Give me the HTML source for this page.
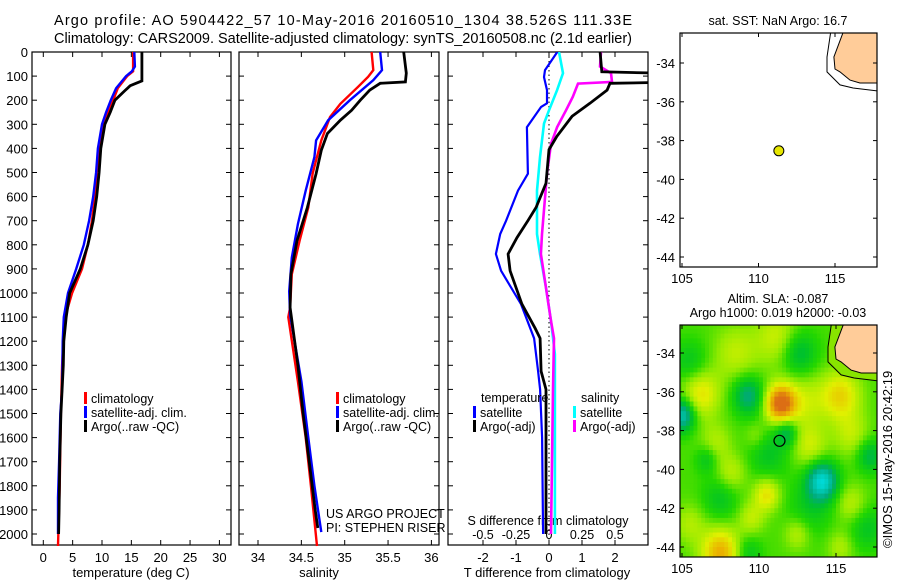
<!DOCTYPE html>
<html><head><meta charset="utf-8"><style>
html,body{margin:0;padding:0;background:#fff;}
svg{display:block;font-family:"Liberation Sans",sans-serif;}
</style></head><body>
<svg id="fig" width="900" height="580" viewBox="0 0 900 580" xmlns="http://www.w3.org/2000/svg">
<text x="54" y="25" font-size="14.5" textLength="578">Argo profile: AO 5904422_57 10-May-2016 20160510_1304 38.526S 111.33E</text>
<text x="54" y="43" font-size="14.5" textLength="578">Climatology: CARS2009. Satellite-adjusted climatology: synTS_20160508.nc (2.1d earlier)</text>
<g id="g1"></g>
<g id="g2"></g>
<g id="g3"></g>
<g id="g4"></g>
<g id="g5"></g>
<text x="0" y="0" font-size="13" transform="translate(892,548) rotate(-90)">©IMOS 15-May-2016 20:42:19</text>
</svg>
<script>
// ---------- data ----------
const depthTicks = [0,100,200,300,400,500,600,700,800,900,1000,1100,1200,1300,1400,1500,1600,1700,1800,1900,2000];
const tempTicks = [0,5,10,15,20,25,30];
const salTicks = [34,34.5,35,35.5,36];
const salTickLabels = ["34","34.5","35","35.5","36"];
const dTTicks = [-2,-1,0,1,2];
const dSTicks = [-0.5,-0.25,0,0.25,0.5];
const dSTickLabels = ["-0.5","-0.25","0","0.25","0.5"];
const lonTicks = [105,110,115];
const latTicks = [-34,-36,-38,-40,-42,-44];

const argoTDepth = [0,120,130,140,160,200,250,300,400,500,600,700,800,900,1000,1100,1200,1300,1400,1500,1700,1900,2000];
const argoT      = [16.8,16.8,15.8,14.8,13.9,12.2,11.4,10.5,9.8,9.5,9.1,8.5,7.6,6.3,4.5,3.9,3.5,3.4,3.2,3.0,2.8,2.7,2.6];
const climTDepth = [0,80,100,150,200,250,300,400,500,600,700,800,900,1000,1100,1200,1300,1500,1800,2050];
const climT      = [15.3,15.3,14.3,12.7,11.9,11.0,10.3,9.5,9.1,8.8,8.3,7.6,6.6,4.9,3.7,3.4,3.2,3.0,2.8,2.5];
const satTDepth  = [0,60,80,100,150,200,250,300,400,500,600,700,800,900,1000,1100,1200,1400,1500,1700,1850,2000];
const satT       = [15.5,15.6,15.1,14.1,12.4,11.5,10.7,10.0,9.3,9.0,8.5,7.8,6.9,5.6,4.2,3.5,3.3,3.2,2.9,2.7,2.5,2.5];

const argoSDepth = [0,88,124,130,158,200,242,283,338,408,505,645,783,922,1060,1300,1500,1700,1900,1975];
const argoS      = [35.68,35.71,35.70,35.41,35.29,35.18,35.08,34.95,34.80,34.73,34.67,34.57,34.45,34.38,34.37,34.46,34.52,34.59,34.66,34.69];
const climSDepth = [0,75,103,146,215,270,367,505,645,783,922,1060,1100,1367,1600,1800,2050];
const climS      = [35.31,35.33,35.27,35.15,34.95,34.83,34.73,34.63,34.58,34.48,34.39,34.37,34.35,34.46,34.55,34.61,34.68];
const satSDepth  = [0,75,117,200,283,367,436,575,714,853,992,1090,1367,1600,1800,1992];
const satS       = [35.41,35.43,35.33,35.06,34.81,34.67,34.65,34.55,34.46,34.39,34.36,34.37,34.50,34.58,34.65,34.73];

const dTsatDepth = [0,75,104,158,213,228,312,505,575,700,755,838,908,1046,1188,1325,1400,1600,2000];
const dTsat      = [0.25,-0.12,-0.15,-0.06,-0.06,-0.24,-0.67,-0.64,-0.94,-1.30,-1.48,-1.61,-1.45,-0.85,-0.45,-0.33,-0.27,-0.21,-0.18];
const dTargoDepth = [0,82,90,125,130,158,213,267,350,405,545,645,700,770,838,908,1046,1146,1188,1325,1400,2000];
const dTargo      = [1.55,1.6,4.0,4.0,1.85,1.76,1.24,0.70,0.24,0.0,-0.09,-0.39,-0.64,-0.97,-1.24,-1.18,-0.82,-0.42,-0.27,-0.24,-0.09,-0.09];
const dSsatDepth = [0,88,158,242,297,436,575,755,838,978,1116,1254,1400,2000];
const dSsat      = [0.076,0.106,0.061,0.0,-0.038,-0.068,-0.091,-0.091,-0.068,-0.023,0.015,0.045,0.045,0.045];
const dSargoDepth = [0,60,88,124,131,186,242,312,381,505,755,838,1116,1188,1400,2000];
const dSargo      = [0.394,0.386,0.47,0.477,0.22,0.18,0.129,0.061,0.015,-0.015,-0.053,-0.061,0.015,0.038,0.03,0.015];

const floatLon = 111.33, floatLat = -38.526;
const landLon = [115.59,114.93,115.0,115.33,115.98,116.63,117.75,118.2,118.2];
const landLat = [-32.3,-33.69,-34.31,-34.46,-34.88,-35.03,-35.03,-35.03,-32.3];
const shelfLon = [114.74,114.48,114.48,115.33,116.18,117.75,118.2,118.2];
const shelfLat = [-32.3,-33.69,-34.46,-35.13,-35.29,-35.44,-35.44,-32.3];

const blobLon = [111.4,107.5,106.2,115.3,110.5,108.5,111.2,113.0,113.3,116.0,107.2,108.2,116.0,112.5,105.5,109.8,109.5,115.3,114.1,105.0,109.3,111.8,117.2,112.6,105.5,110.6,107.5,109.3,106.6,113.3,117.0];
const blobLat = [-36.6,-44.3,-36.1,-36.2,-41.3,-34.0,-33.2,-36.5,-38.8,-38.2,-38.6,-40.2,-41.8,-43.3,-42.8,-38.3,-42.5,-44.0,-40.6,-37.2,-36.2,-38.1,-39.3,-34.0,-34.5,-39.2,-41.5,-44.3,-39.5,-42.0,-43.0];
const blobVal = [1.1,0.75,0.5,0.55,0.5,0.3,0.35,0.3,0.35,0.3,0.25,0.3,0.3,0.3,0.25,0.2,0.3,0.25,-1.0,-0.9,-0.6,-0.5,-0.45,-0.45,-0.3,-0.3,-0.3,-0.3,-0.3,-0.25,-0.3];
const blobRad = [0.7,0.9,0.9,0.9,0.6,1.0,1.0,1.0,0.8,0.8,0.7,0.7,0.7,0.6,0.7,0.5,0.6,0.6,0.7,0.6,0.7,0.5,0.6,0.8,0.8,0.9,0.8,0.6,0.5,1.0,0.8];

// ---------- helpers ----------
const NS = "http://www.w3.org/2000/svg";
function mk(parent, tag, attrs, txt){
  const e = document.createElementNS(NS, tag);
  for (const k in attrs) e.setAttribute(k, attrs[k]);
  if (txt !== undefined) e.textContent = txt;
  parent.appendChild(e); return e;
}
const Y0 = 52, YB = 545;
const yD = d => Y0 + d*0.241;
const xT = t => 43.3 + t*5.87;
const xS = s => 258 + (s-34)*86.7;
const xdT = t => 549 + t*33;
const xdS = s => 549 + s*132;

function frame(g, x0, x1, name){
  const r = mk(g,'rect',{x:x0,y:Y0,width:x1-x0,height:YB-Y0,fill:'none',stroke:'#000','stroke-width':1.2});
  
  
  depthTicks.forEach(d=>{
    const y = yD(d);
    mk(g,'line',{x1:x0,x2:x0+5,y1:y,y2:y,stroke:'#000'});
    mk(g,'line',{x1:x1-5,x2:x1,y1:y,y2:y,stroke:'#000'});
  });
}
function series(g, xs, ds, fx, color, name, w, clipId){
  const pts = xs.map((v,i)=> fx(v).toFixed(1)+','+yD(ds[i]).toFixed(1)).join(' ');
  const p = mk(g,'polyline',{points:pts,fill:'none',stroke:color,'stroke-width':w||2.4,'stroke-linejoin':'miter'});
  if (clipId) p.setAttribute('clip-path','url(#'+clipId+')');
  
  
}
function legend(g, x, y, color, label, name){
  mk(g,'rect',{x:x,y:y-11,width:3,height:12,fill:color});
  const t = mk(g,'text',{x:x+7,y:y,'font-size':12.5},label);
  
  
}

const svg = document.getElementById('fig');
const defs = mk(svg,'defs',{});
const cp = mk(defs,'clipPath',{id:'c3'}); mk(cp,'rect',{x:448,y:Y0,width:200,height:YB-Y0});
const cpm1 = mk(defs,'clipPath',{id:'m1'}); mk(cpm1,'rect',{x:680,y:33,width:197,height:234});
const cpm2 = mk(defs,'clipPath',{id:'m2'}); mk(cpm2,'rect',{x:680,y:325,width:197,height:232});

// ---------- panel 1 ----------
const g1 = document.getElementById('g1');
frame(g1, 32, 231, 'temperature-plot-frame');
depthTicks.forEach(d=>{
  const t = mk(g1,'text',{x:28,y:yD(d)+5,'font-size':13,'text-anchor':'end'},String(d));
  
  
});
tempTicks.forEach(v=>{
  const x = xT(v);
  mk(g1,'line',{x1:x,x2:x,y1:YB,y2:YB-5,stroke:'#000'});
  mk(g1,'line',{x1:x,x2:x,y1:Y0,y2:Y0+5,stroke:'#000'});
  const t = mk(g1,'text',{x:x,y:562,'font-size':13,'text-anchor':'middle'},String(v));
  
  
});
mk(g1,'text',{x:131,y:577,'font-size':13,'text-anchor':'middle',},'temperature (deg C)');
series(g1, climT, climTDepth, xT, '#ff0000', 'climatology-temperature-line');
series(g1, satT, satTDepth, xT, '#0000ff', 'satellite-temperature-line');
series(g1, argoT, argoTDepth, xT, '#000000', 'argo-temperature-line', 2.8);
legend(g1, 84, 403, '#ff0000', 'climatology', 'legend-climatology');
legend(g1, 84, 417, '#0000ff', 'satellite-adj. clim.', 'legend-satellite');
legend(g1, 84, 431, '#000000', 'Argo(..raw -QC)', 'legend-argo');

// ---------- panel 2 ----------
const g2 = document.getElementById('g2');
frame(g2, 239, 439, 'salinity-plot-frame');
salTicks.forEach((v,i)=>{
  const x = xS(v);
  mk(g2,'line',{x1:x,x2:x,y1:YB,y2:YB-5,stroke:'#000'});
  mk(g2,'line',{x1:x,x2:x,y1:Y0,y2:Y0+5,stroke:'#000'});
  const t = mk(g2,'text',{x:x,y:562,'font-size':13,'text-anchor':'middle'},salTickLabels[i]);
  
  
});
mk(g2,'text',{x:319,y:577,'font-size':13,'text-anchor':'middle',},'salinity');
series(g2, climS, climSDepth, xS, '#ff0000', 'climatology-salinity-line');
series(g2, satS, satSDepth, xS, '#0000ff', 'satellite-salinity-line');
series(g2, argoS, argoSDepth, xS, '#000000', 'argo-salinity-line', 2.8);
legend(g2, 336, 403, '#ff0000', 'climatology', 'legend-climatology');
legend(g2, 336, 417, '#0000ff', 'satellite-adj. clim.', 'legend-satellite');
legend(g2, 336, 431, '#000000', 'Argo(..raw -QC)', 'legend-argo');
mk(g2,'text',{x:326,y:518,'font-size':12.5,},'US ARGO PROJECT');
mk(g2,'text',{x:326,y:532,'font-size':12.5,},'PI: STEPHEN RISER');

// ---------- panel 3 ----------
const g3 = document.getElementById('g3');
frame(g3, 448, 648, 'difference-plot-frame');
mk(g3,'line',{x1:549,x2:549,y1:Y0,y2:YB,stroke:'#000','stroke-dasharray':'1.5,3',});
dTTicks.forEach(v=>{
  const x = xdT(v);
  mk(g3,'line',{x1:x,x2:x,y1:YB,y2:YB-5,stroke:'#000'});
  mk(g3,'line',{x1:x,x2:x,y1:Y0,y2:Y0+5,stroke:'#000'});
  const t = mk(g3,'text',{x:x,y:562,'font-size':13,'text-anchor':'middle'},String(v));
  
  
});
dSTicks.forEach((v,i)=>{
  const t = mk(g3,'text',{x:xdS(v),y:539,'font-size':12.5,'text-anchor':'middle'},dSTickLabels[i]);
  
  
});
mk(g3,'text',{x:548,y:525,'font-size':12.5,'text-anchor':'middle',},'S difference from climatology');
mk(g3,'text',{x:547,y:577,'font-size':13,'text-anchor':'middle',},'T difference from climatology');
series(g3, dSsat, dSsatDepth, xdS, '#00ffff', 'satellite-salinity-diff-line', 2.6, 'c3');
series(g3, dSargo, dSargoDepth, xdS, '#ff00ff', 'argo-salinity-diff-line', 2.6, 'c3');
series(g3, dTsat, dTsatDepth, xdT, '#0000ff', 'satellite-temperature-diff-line', 2.2, 'c3');
series(g3, dTargo, dTargoDepth, xdT, '#000000', 'argo-temperature-diff-line', 2.8, 'c3');
mk(g3,'text',{x:481,y:402,'font-size':12.5,},'temperature');
mk(g3,'text',{x:581,y:402,'font-size':12.5,},'salinity');
legend(g3, 473, 417, '#0000ff', 'satellite', 'legend-temp-satellite');
legend(g3, 473, 431, '#000000', 'Argo(-adj)', 'legend-temp-argo');
legend(g3, 573, 417, '#00ffff', 'satellite', 'legend-sal-satellite');
legend(g3, 573, 431, '#ff00ff', 'Argo(-adj)', 'legend-sal-argo');

// ---------- maps ----------
function mapAxes(g, top, bot, lonX, latY, name){
  const r = mk(g,'rect',{x:680,y:top,width:197,height:bot-top,fill:'none',stroke:'#000','stroke-width':1.2});
  
  
  lonTicks.forEach(v=>{
    const x = lonX(v);
    mk(g,'line',{x1:x,x2:x,y1:bot,y2:bot-4,stroke:'#000'});
    mk(g,'line',{x1:x,x2:x,y1:top,y2:top+4,stroke:'#000'});
    const t = mk(g,'text',{x:x,y:bot+16,'font-size':13,'text-anchor':'middle'},String(v));
    
    
  });
  latTicks.forEach(v=>{
    const y = latY(v);
    mk(g,'line',{x1:680,x2:684,y1:y,y2:y,stroke:'#000'});
    mk(g,'line',{x1:873,x2:877,y1:y,y2:y,stroke:'#000'});
    const t = mk(g,'text',{x:675,y:y+5,'font-size':13,'text-anchor':'end'},String(v));
    
    
  });
}
function poly(g, lons, lats, lonX, latY, fill, name, clip){
  const pts = lons.map((v,i)=> lonX(v).toFixed(1)+','+latY(lats[i]).toFixed(1)).join(' ');
  const p = mk(g,'polygon',{points:pts,fill:fill,stroke:'#000','stroke-width':1,'clip-path':'url(#'+clip+')'});
  
  
}

// map 1
const g4 = document.getElementById('g4');
const lx1 = lon => 682 + (lon-105)*15.3;
const ly1 = lat => 63 + (-34-lat)*19.4;
mk(g4,'text',{x:778,y:25,'font-size':12.5,'text-anchor':'middle',},'sat. SST: NaN Argo: 16.7');
poly(g4, shelfLon, shelfLat, lx1, ly1, '#ffffff', 'shelf-contour', 'm1');
poly(g4, landLon, landLat, lx1, ly1, '#ffcc99', 'australia-land', 'm1');
mapAxes(g4, 33, 267, lx1, ly1, 'sst-map-frame');
mk(g4,'circle',{cx:lx1(floatLon),cy:ly1(floatLat),r:5,fill:'#e6e600',stroke:'#000',});

// map 2
const g5 = document.getElementById('g5');
const lx2 = lon => 682 + (lon-105)*15.4;
const ly2 = lat => 353 + (-34-lat)*19.4;
mk(g5,'text',{x:778,y:303,'font-size':12.5,'text-anchor':'middle',},'Altim. SLA: -0.087');
mk(g5,'text',{x:778,y:317,'font-size':12.5,'text-anchor':'middle',},'Argo h1000: 0.019 h2000: -0.03');
const stops = [[-1,[0,220,220]],[-0.5,[0,170,120]],[-0.25,[0,195,40]],[0,[35,215,0]],[0.25,[150,235,0]],[0.5,[225,240,0]],[0.8,[235,180,0]],[1.1,[220,110,20]]];
function cmap(v){
  if (v<=stops[0][0]) return stops[0][1];
  for (let i=1;i<stops.length;i++){
    if (v<=stops[i][0]){
      const a=stops[i-1], b=stops[i], f=(v-a[0])/(b[0]-a[0]);
      return a[1].map((c,k)=>Math.round(c+(b[1][k]-c)*f));
    }
  }
  return stops[stops.length-1][1];
}
const field = mk(g5,'g',{'clip-path':'url(#m2)'});


const step = 0.25;
for (let lon=104.75; lon<118; lon+=step){
  for (let lat=-32.25; lat>-44.75; lat-=step){
    let v = 0.08;
    for (let i=0;i<blobLon.length;i++){
      const r = blobRad[i]*1.4;
      const dx=(lon+step/2-blobLon[i])/r, dy=(lat-step/2-blobLat[i])/r;
      v += blobVal[i]*Math.exp(-(dx*dx+dy*dy));
    }
    const c = cmap(v);
    const x = lx2(lon), y = ly2(lat);
    mk(field,'rect',{x:x.toFixed(1),y:y.toFixed(1),width:(step*15.4+0.6).toFixed(1),height:(step*19.4+0.6).toFixed(1),fill:'rgb('+c.join(',')+')'});
  }
}
poly(g5, shelfLon, shelfLat, lx2, ly2, '#88e400', 'shelf-contour', 'm2');
poly(g5, landLon, landLat, lx2, ly2, '#ffcc99', 'australia-land', 'm2');
mapAxes(g5, 325, 557, lx2, ly2, 'sla-map-frame');
mk(g5,'circle',{cx:lx2(floatLon),cy:ly2(floatLat),r:5.5,fill:'none',stroke:'#000','stroke-width':1.2,});
</script>
</body></html>
